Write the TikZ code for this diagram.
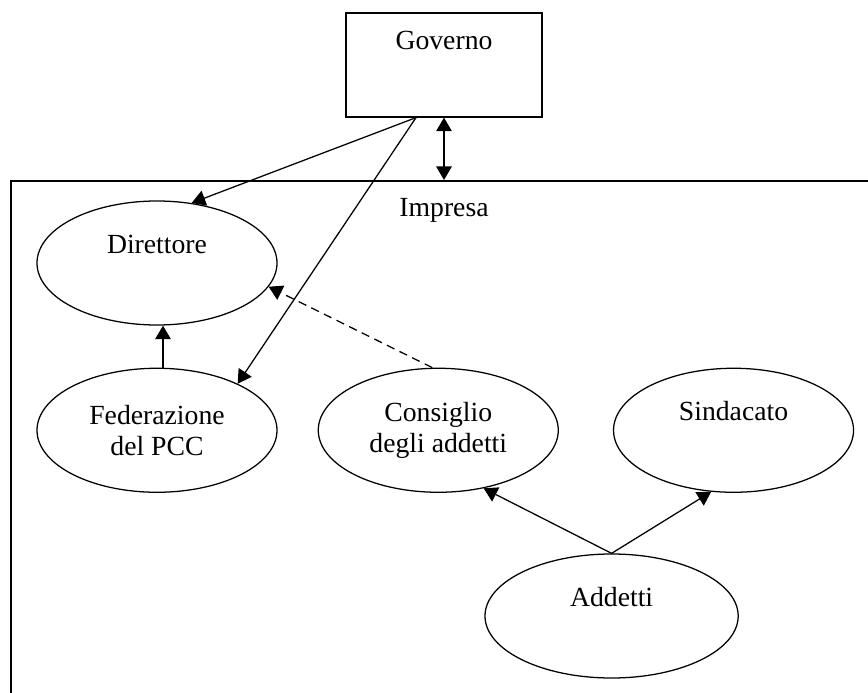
\documentclass[tikz,border=0pt]{standalone}
\usepackage{fontspec}
\setmainfont{Liberation Serif}
\usetikzlibrary{arrows.meta,positioning,shapes.geometric}

\begin{document}
\begin{tikzpicture}[
node distance=1.05cm and 1cm,
font=\fontsize{19.7}{22}\selectfont,
box/.style={draw,line width=0.9pt,minimum width=4.9cm,minimum height=2.6cm,inner sep=0pt},
oval/.style={draw,ellipse,line width=0.9pt,minimum width=6cm,minimum height=3.1cm,inner sep=0pt,align=center},
toptext/.style={yshift=0.47cm},
arr/.style={-{Triangle[length=3.4mm,width=3.9mm]},line width=0.9pt}]
\path[use as bounding box,clip] (0,0) rectangle (21.7,-17.325);
\node[draw,line width=1.3pt,anchor=north west,minimum width=24cm,minimum height=14cm] (imp) at (0.25,-4.5) {};
\node (impname) at (11.1,-5.25) {Impresa};
\node[box,label={[yshift=0.62cm]center:Governo}] (gov) at (11.1,-1.625) {};
\node[oval,label={[toptext]center:Direttore}] (dir) at (3.925,-6.575) {};
\node[oval,below=of dir] (fed) {Federazione\\del PCC};
\node[oval,right=of fed] (cons) {Consiglio\\degli addetti};
\node[oval,right=1.35cm of cons,label={[toptext]center:Sindacato}] (sind) {};
\node[oval,minimum width=6.33cm,label={[toptext]center:Addetti}] (add) at (15.29,-15.4) {};
\draw[arr,{Triangle[length=3.4mm,width=3.9mm]}-{Triangle[length=3.4mm,width=3.9mm]}] (gov.south) -- (gov.south |- imp.north);
\draw[arr] ([xshift=-0.7cm]gov.south) -- (dir.60);
\draw[arr] ([xshift=-0.7cm]gov.south) -- (fed.30);
\draw[arr] ([xshift=0.15cm]fed.north) -- ([xshift=0.15cm]dir.south);
\draw[arr,dash pattern=on 6pt off 4pt] ([xshift=-0.15cm]cons.north) -- (dir.-12);
\draw[arr] (add.north) -- (cons.-52);
\draw[arr] (add.north) -- (sind.-110);
\end{tikzpicture}
\end{document}
